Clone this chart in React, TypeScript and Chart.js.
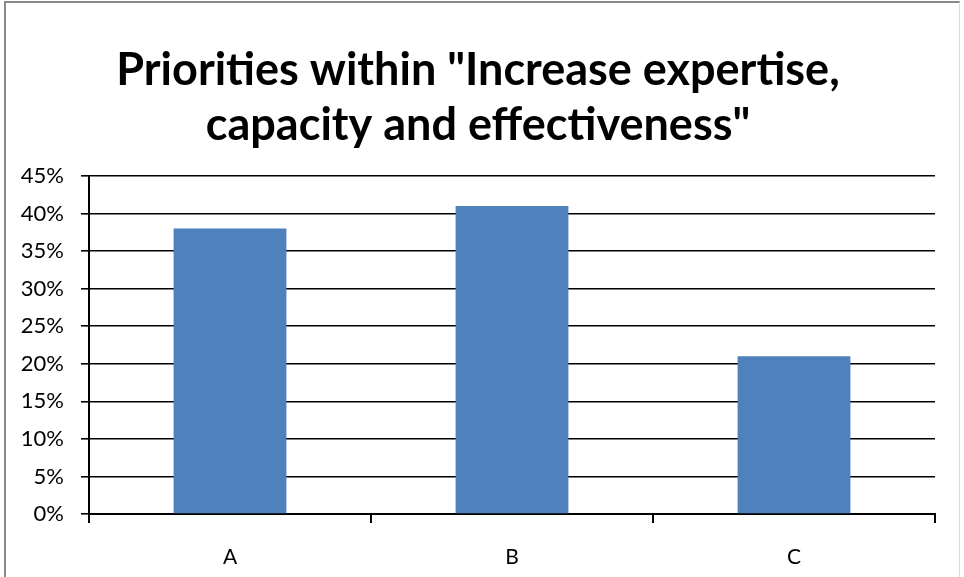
import React, { useEffect, useRef } from "react";
import { Chart, registerables } from "chart.js";

Chart.register(...registerables);

const titleLines = ['Priorities within "Increase expertise,', 'capacity and effectiveness"'];
const categories = ["A", "B", "C"];
const values = [38, 41, 21];
const yMax = 45;
const yStep = 5;

const FONT = "Lato, 'Open Sans', sans-serif";

export default function App() {
  const ref = useRef<HTMLCanvasElement | null>(null);

  useEffect(() => {
    if (!ref.current) return;
    const chart = new Chart(ref.current, {
      type: "bar",
      data: {
        labels: categories,
        datasets: [
          {
            data: values,
            backgroundColor: "#4F81BD",
            borderWidth: 0,
            categoryPercentage: 1,
            barPercentage: 0.4,
          },
        ],
      },
      options: {
        animation: false,
        responsive: false,
        maintainAspectRatio: false,
        layout: { padding: { left: 21, right: 29, top: 0, bottom: 0 } },
        plugins: {
          legend: { display: false },
          tooltip: { enabled: false },
          title: {
            display: true,
            text: titleLines,
            color: "#000",
            font: { family: FONT, size: 45, weight: "bold", lineHeight: 1.222 },
            padding: { top: 43, bottom: 23 },
          },
        },
        scales: {
          x: {
            grid: {
              display: true,
              drawOnChartArea: false,
              drawTicks: true,
              tickLength: 9,
              color: "#000",
              lineWidth: 2,
              offset: true,
            },
            border: { display: true, color: "#000", width: 2 },
            ticks: {
              color: "#000",
              font: { family: FONT, size: 21 },
              padding: 22,
            },
            afterFit: (s: any) => {
              s.height = 63;
            },
          },
          y: {
            min: 0,
            max: yMax,
            grid: {
              color: "#000",
              lineWidth: 1.6,
              tickLength: 8,
              drawTicks: true,
            },
            border: { display: true, color: "#000", width: 2 },
            ticks: {
              stepSize: yStep,
              color: "#000",
              font: { family: FONT, size: 22 },
              padding: 17,
              callback: (v: any) => v + "%",
            },
            afterFit: (s: any) => {
              s.width = 68;
            },
          },
        },
      },
    });
    return () => chart.destroy();
  }, []);

  return (
    <div style={{ position: "fixed", left: 0, top: 0, width: 964, height: 577, background: "#fff", overflow: "hidden" }}>
      <canvas ref={ref} width={964} height={577} style={{ position: "absolute", left: 0, top: 0, width: 964, height: 577 }} />
      <div
        style={{
          position: "absolute",
          left: 4,
          top: 1,
          width: 956,
          height: 600,
          borderLeft: "2px solid #8a8a8a",
          borderTop: "2px solid #8a8a8a",
          borderRight: "1px solid #d9d9d9",
          boxSizing: "border-box",
          pointerEvents: "none",
        }}
      />
    </div>
  );
}
